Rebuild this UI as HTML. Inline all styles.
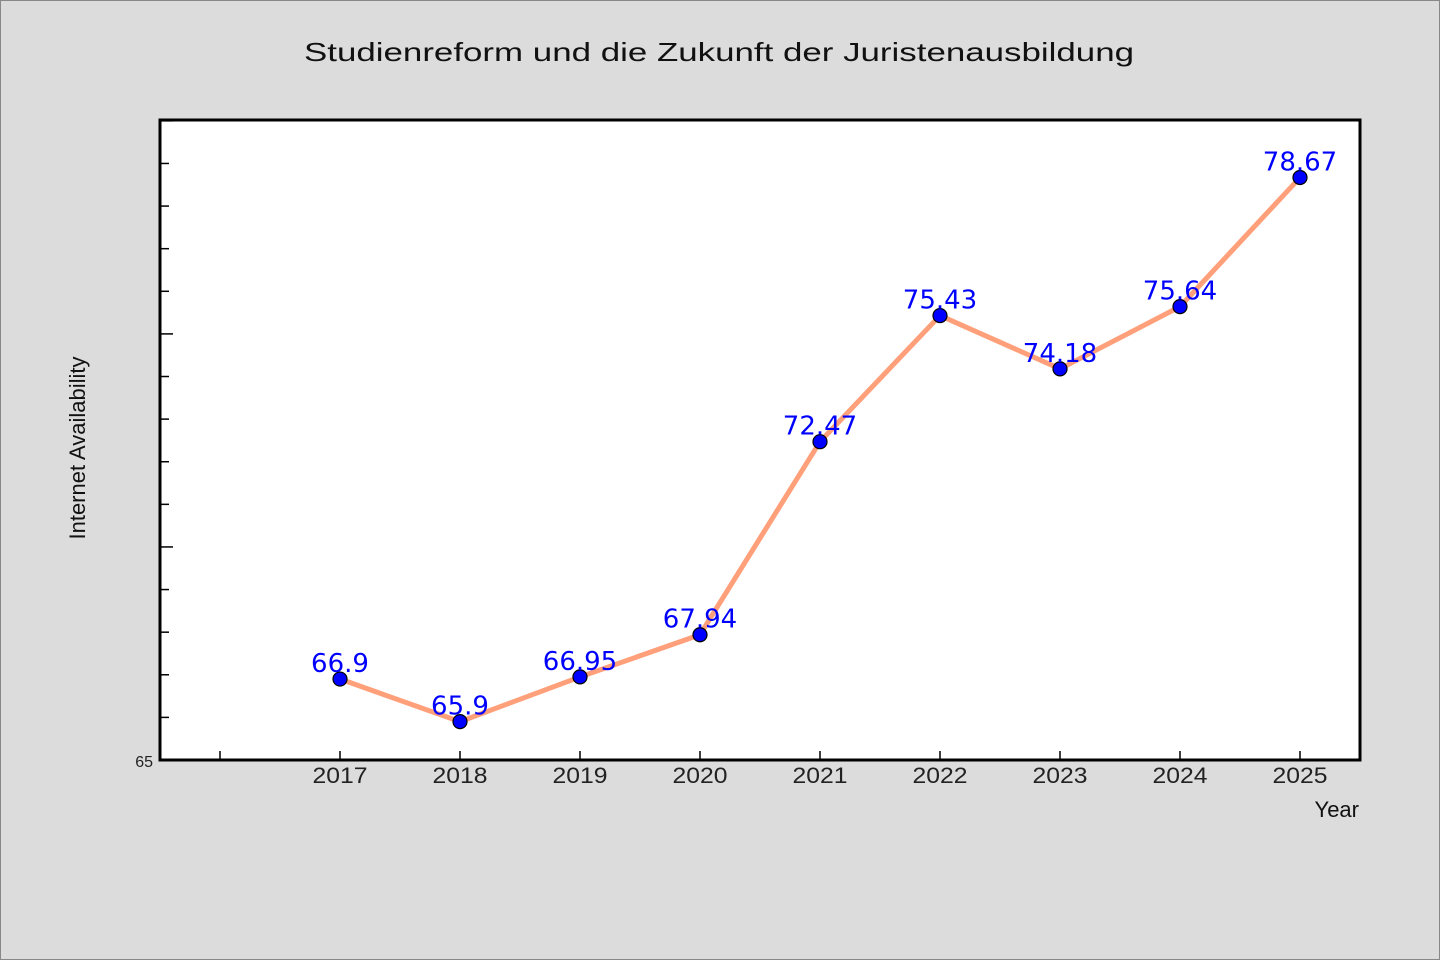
<!DOCTYPE html>
<html><head><meta charset="utf-8"><style>
html,body{margin:0;padding:0;background:#dcdcdc;}
svg{display:block;}
text{font-family:"WenQuanYi Zen Hei","Liberation Sans",sans-serif;}
</style></head><body>
<svg id="chart" width="1440" height="960" xmlns="http://www.w3.org/2000/svg">
<rect x="0.5" y="0.5" width="1439" height="959" fill="#dcdcdc" stroke="#888"/>
<text x="719" y="61" font-size="26" text-anchor="middle" fill="#111" textLength="830" lengthAdjust="spacingAndGlyphs">Studienreform und die Zukunft der Juristenausbildung</text>
<rect x="160" y="120" width="1200" height="640" fill="#fff"/>
<g id="axes"></g>
<polyline id="line" fill="none" stroke="#ffa07a" stroke-width="5" stroke-linejoin="round"/>
<g id="marks"></g>
<rect x="160" y="120" width="1200" height="640" fill="none" stroke="#000" stroke-width="3"/>
<text x="85" y="448" font-size="22" text-anchor="middle" fill="#111" transform="rotate(-90 85 448)">Internet Availability</text>
<text x="1359" y="817" font-size="22" text-anchor="end" fill="#111">Year</text>
</svg>
<script>
const years = [2017,2018,2019,2020,2021,2022,2023,2024,2025];
const values = [66.9,65.9,66.95,67.94,72.47,75.43,74.18,75.64,78.67];
const labels = ["66.9","65.9","66.95","67.94","72.47","75.43","74.18","75.64","78.67"];
const yMin = 65, yMax = 80.02;
const NS = "http://www.w3.org/2000/svg";
const X = v => 160 + (v - 2015.5) / 10 * 1200;
const Y = v => 760 - (v - yMin) / (yMax - yMin) * 640;
function mk(tag, attrs, parent){const e=document.createElementNS(NS,tag);for(const k in attrs)e.setAttribute(k,attrs[k]);parent.appendChild(e);return e;}
const axes=document.getElementById('axes');
for(let v=66; v<=80; v++){
  const t=mk('line',{x1:160,x2:(v%5===0)?173:169,y1:Y(v),y2:Y(v),stroke:'#000','stroke-width':1.5},axes);
  
  
}
const yl=mk('text',{x:153,y:767,'font-size':16,'text-anchor':'end',fill:'#222'},axes);
yl.textContent='65';


for(let yr=2016; yr<=2025; yr++){
  const t=mk('line',{x1:X(yr),x2:X(yr),y1:760,y2:751,stroke:'#000','stroke-width':1.5},axes);
  
  
}
years.forEach(yr=>{
  const t=mk('text',{x:X(yr),y:783,'font-size':22,'text-anchor':'middle',fill:'#222',textLength:55,lengthAdjust:'spacingAndGlyphs'},axes);
  t.textContent=String(yr);
  
  
});
document.getElementById('line').setAttribute('points',years.map((yr,i)=>X(yr)+','+Y(values[i])).join(' '));
const marks=document.getElementById('marks');
years.forEach((yr,i)=>{
  const c=mk('circle',{cx:X(yr),cy:Y(values[i]),r:7,fill:'#0000ff',stroke:'#000','stroke-width':1.2},marks);
  
  
  const t=mk('text',{x:X(yr),y:Y(values[i])-7,'font-size':26,'text-anchor':'middle',fill:'#0000ff'},marks);
  t.style.fontFamily='"DejaVu Sans","Liberation Sans",sans-serif';
  t.textContent=labels[i];
  
  
});
</script>
</body></html>
